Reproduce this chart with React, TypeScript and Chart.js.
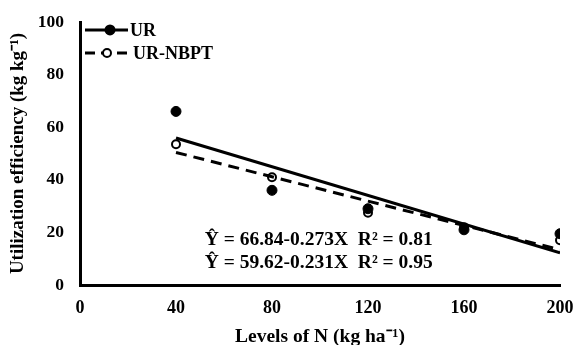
import React, { useEffect, useRef } from "react";
import { Chart, registerables } from "chart.js";

Chart.register(...registerables);

const levels = [40, 80, 120, 160, 200];
const urValues = [66, 36, 29, 21, 19.5];
const nbptValues = [53.5, 41, 27.5, 22, 17];
const fitX = [40, 200];
const urFit = [55.9, 12.2];
const nbptFit = [50.4, 13.4];
const xTicks = [0, 40, 80, 120, 160, 200];
const yTicks = [0, 20, 40, 60, 80, 100];
const eqLines = ["Ŷ = 66.84-0.273X  R² = 0.81", "Ŷ = 59.62-0.231X  R² = 0.95"];
const legendLabels = ["UR", "UR-NBPT"];

const FONT = "'Liberation Serif', 'Times New Roman', serif";

const overlay = {
  id: "overlay",
  afterDraw(chart: any) {
    const ctx = chart.ctx;
    const xs = chart.scales.x;
    const ys = chart.scales.y;
    ctx.save();
    // equations
    ctx.fillStyle = "#000";
    ctx.font = `bold 19.5px ${FONT}`;
    ctx.textBaseline = "middle";
    ctx.textAlign = "left";
    ctx.fillText(eqLines[0], xs.getPixelForValue(52), ys.getPixelForValue(17.1));
    ctx.fillText(eqLines[1], xs.getPixelForValue(52), ys.getPixelForValue(8.4));
    // legend
    ctx.font = `bold 18px ${FONT}`;
    const lx0 = chart.chartArea.left + 5;
    const lx1 = lx0 + 43;
    const rows = [ys.getPixelForValue(97), ys.getPixelForValue(88.2)];
    ctx.lineWidth = 3;
    ctx.strokeStyle = "#000";
    // row 1
    ctx.beginPath();
    ctx.moveTo(lx0, rows[0]);
    ctx.lineTo(lx1, rows[0]);
    ctx.stroke();
    ctx.beginPath();
    ctx.arc(lx0 + 25, rows[0], 5.5, 0, Math.PI * 2);
    ctx.fill();
    ctx.fillText(legendLabels[0], lx1 + 2, rows[0] + 1);
    // row 2
    ctx.setLineDash([10, 6]);
    ctx.beginPath();
    ctx.moveTo(lx0, rows[1]);
    ctx.lineTo(lx1 + 2, rows[1]);
    ctx.stroke();
    ctx.setLineDash([]);
    ctx.fillStyle = "#fff";
    ctx.lineWidth = 2;
    ctx.beginPath();
    ctx.arc(lx0 + 22, rows[1], 4, 0, Math.PI * 2);
    ctx.fill();
    ctx.stroke();
    ctx.fillStyle = "#000";
    ctx.fillText(legendLabels[1], lx1 + 5, rows[1] + 1);
    ctx.restore();
  },
};

export default function App() {
  const ref = useRef<HTMLCanvasElement>(null);
  useEffect(() => {
    const chart = new Chart(ref.current!, {
      type: "scatter",
      data: {
        datasets: [
          {
            label: "UR fit",
            type: "line",
            data: fitX.map((x, i) => ({ x, y: urFit[i] })),
            borderColor: "#000",
            borderWidth: 3,
            pointRadius: 0,
            fill: false,
          },
          {
            label: "UR-NBPT fit",
            type: "line",
            data: fitX.map((x, i) => ({ x, y: nbptFit[i] })),
            borderColor: "#000",
            borderWidth: 3,
            borderDash: [11, 7],
            pointRadius: 0,
            fill: false,
          },
          {
            label: "UR",
            data: levels.map((x, i) => ({ x, y: urValues[i] })),
            backgroundColor: "#000",
            borderColor: "#000",
            pointRadius: 5,
            borderWidth: 1,
          },
          {
            label: "UR-NBPT",
            data: levels.map((x, i) => ({ x, y: nbptValues[i] })),
            backgroundColor: "#fff",
            borderColor: "#000",
            pointRadius: 4,
            borderWidth: 2,
          },
        ],
      },
      options: {
        animation: false,
        responsive: false,
        layout: { padding: { top: 22, right: 14, left: 0, bottom: 0 } },
        plugins: { legend: { display: false }, tooltip: { enabled: false } },
        scales: {
          x: {
            type: "linear",
            min: 0,
            max: 200,
            afterBuildTicks: (s: any) => {
              s.ticks = xTicks.map((v) => ({ value: v }));
            },
            afterFit: (s: any) => {
              s.height = 60;
              s.paddingLeft = 0;
              s.paddingRight = 0;
            },
            grid: { display: false, drawTicks: true, tickLength: 7, tickWidth: 2, tickColor: "#000" } as any,
            border: { color: "#000", width: 3 },
            ticks: { color: "#000", font: { family: FONT, size: 18, weight: "bold" }, padding: 6, maxRotation: 0 },
            title: {
              display: true,
              text: "Levels of N (kg ha⁻¹)",
              color: "#000",
              font: { family: FONT, size: 19.5, weight: "bold", lineHeight: 1 },
              padding: { top: 0, bottom: -2 },
            },
          },
          y: {
            min: 0,
            max: 100,
            afterBuildTicks: (s: any) => {
              s.ticks = yTicks.map((v) => ({ value: v }));
            },
            afterFit: (s: any) => {
              s.width = 80;
              s.paddingTop = 0;
              s.paddingBottom = 0;
            },
            grid: { display: false, drawTicks: true, tickLength: 6, tickWidth: 2, tickColor: "#000" } as any,
            border: { color: "#000", width: 3 },
            ticks: { color: "#000", font: { family: FONT, size: 17.5, weight: "bold" }, padding: 10 },
            title: {
              display: true,
              text: "Utilization efficiency (kg kg⁻¹)",
              color: "#000",
              font: { family: FONT, size: 19, weight: "bold", lineHeight: 1 },
              padding: { top: 8.5, bottom: 0 },
            },
          },
        },
      },
      plugins: [overlay],
    });
    return () => chart.destroy();
  }, []);
  return (
    <div style={{ position: "fixed", left: 0, top: 0, width: 574, height: 345, background: "#fff" }}>
      <canvas ref={ref} width={574} height={345} />
    </div>
  );
}
